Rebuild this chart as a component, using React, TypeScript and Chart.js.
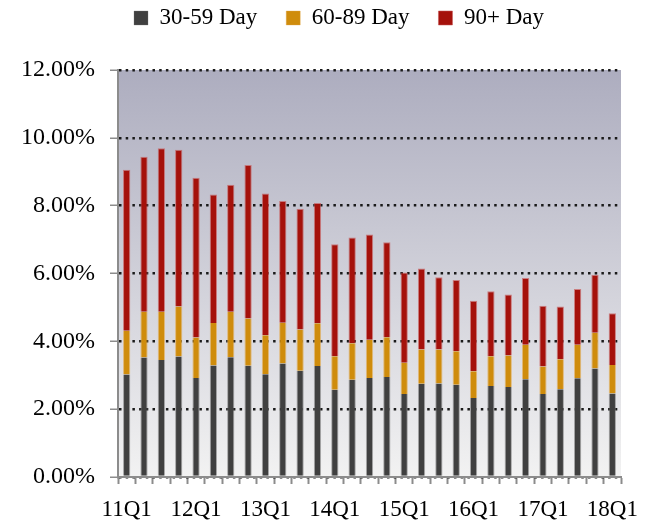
import React, { useEffect, useRef } from "react";
import { Chart, registerables } from "chart.js";

Chart.register(...registerables);

const quarters: string[] = [
  "11Q1", "11Q2", "11Q3", "11Q4",
  "12Q1", "12Q2", "12Q3", "12Q4",
  "13Q1", "13Q2", "13Q3", "13Q4",
  "14Q1", "14Q2", "14Q3", "14Q4",
  "15Q1", "15Q2", "15Q3", "15Q4",
  "16Q1", "16Q2", "16Q3", "16Q4",
  "17Q1", "17Q2", "17Q3", "17Q4",
  "18Q1",
];

const day30to59: number[] = [
  3.02, 3.52, 3.45, 3.55, 2.92, 3.29, 3.53, 3.28, 3.03, 3.35, 3.13, 3.27,
  2.57, 2.87, 2.92, 2.95, 2.45, 2.75, 2.76, 2.72, 2.33, 2.68, 2.65, 2.88,
  2.45, 2.59, 2.91, 3.20, 2.46,
];

const day60to89: number[] = [
  1.29, 1.35, 1.42, 1.48, 1.19, 1.25, 1.34, 1.39, 1.15, 1.20, 1.22, 1.26,
  0.99, 1.07, 1.13, 1.17, 0.92, 1.01, 1.00, 0.99, 0.79, 0.88, 0.93, 1.02,
  0.81, 0.88, 0.99, 1.05, 0.84,
];

const day90plus: number[] = [
  4.75, 4.57, 4.82, 4.62, 4.71, 3.79, 3.75, 4.53, 4.18, 3.59, 3.56, 3.55,
  3.30, 3.12, 3.10, 2.80, 2.66, 2.39, 2.13, 2.10, 2.08, 1.92, 1.80, 1.97,
  1.79, 1.56, 1.64, 1.71, 1.53,
];

const seriesNames: string[] = ["30-59 Day", "60-89 Day", "90+ Day"];
const yTicks: number[] = [0, 2, 4, 6, 8, 10, 12];

const FONT = "'Liberation Serif', 'Times New Roman', serif";

const bgPlugin = {
  id: "plotBg",
  beforeDraw(chart: any) {
    const { ctx, chartArea } = chart;
    if (!chartArea) return;
    const g = ctx.createLinearGradient(0, chartArea.top, 0, chartArea.bottom);
    g.addColorStop(0, "#adadbf");
    g.addColorStop(1, "#f2f2f2");
    ctx.save();
    ctx.fillStyle = g;
    ctx.fillRect(chartArea.left, chartArea.top, chartArea.right - chartArea.left, chartArea.bottom - chartArea.top);
    ctx.restore();
  },
};

const legendPlugin = {
  id: "legendPlace",
  beforeInit(chart: any) {
    const legend = chart.legend;
    if (!legend) return;
    const orig = legend.fit;
    legend.fit = function () {
      orig.call(this);
      this.height = 92.5;
    };
  },
  afterLayout(chart: any) {
    const legend = chart.legend;
    if (!legend) return;
    legend.left = 57;
    legend.width = legend.right - legend.left;
  },
};

export default function App() {
  const ref = useRef<HTMLCanvasElement | null>(null);

  useEffect(() => {
    if (!ref.current) return;
    const chart = new Chart(ref.current, {
      type: "bar",
      data: {
        labels: quarters,
        datasets: [
          {
            label: seriesNames[0],
            data: day30to59,
            backgroundColor: "#404040",
            borderColor: "rgba(120,120,120,0.6)",
            borderWidth: { top: 0, left: 1, right: 1, bottom: 0 },
          },
          {
            label: seriesNames[1],
            data: day60to89,
            backgroundColor: "#cf8c0c",
            borderColor: "rgba(225,170,80,0.7)",
            borderWidth: { top: 0, left: 1, right: 1, bottom: 0 },
          },
          {
            label: seriesNames[2],
            data: day90plus,
            backgroundColor: "#a5110b",
            borderColor: "rgba(200,90,90,0.7)",
            borderWidth: { top: 1, left: 1, right: 1, bottom: 0 },
          },
        ],
      },
      options: {
        animation: false,
        responsive: true,
        maintainAspectRatio: false,
        datasets: {
          bar: { categoryPercentage: 1, barPercentage: 0.42 },
        },
        layout: { padding: { left: 0, right: 34, top: -22.5, bottom: 0 } },
        plugins: {
          legend: {
            position: "top",
            labels: {
              boxWidth: 14,
              boxHeight: 14,
              padding: 29,
              color: "#000",
              font: { family: FONT, size: 23 },
            },
          },
          tooltip: { enabled: false },
        },
        scales: {
          x: {
            stacked: true,
            offset: true,
            grid: {
              offset: true,
              drawOnChartArea: false,
              drawTicks: true,
              tickLength: 7,
              tickColor: "#8c8c8c",
              tickWidth: 2,
            },
            border: { display: true, color: "#8c8c8c", width: 2 },
            ticks: {
              autoSkip: false,
              maxRotation: 0,
              minRotation: 0,
              padding: 12,
              color: "#000",
              font: { family: FONT, size: 23 },
              callback: (_v: any, i: number) => (i % 4 === 0 ? quarters[i] : ""),
            },
            afterFit: (s: any) => {
              s.height = 46;
            },
          },
          y: {
            stacked: true,
            min: yTicks[0],
            max: yTicks[yTicks.length - 1],
            afterBuildTicks: (s: any) => {
              s.ticks = yTicks.map((v) => ({ value: v }));
            },
            grid: {
              color: "#1a1a1a",
              lineWidth: 2.5,
              drawTicks: true,
              tickLength: 8,
              tickColor: "#8c8c8c",
              tickWidth: 1.5,
              tickBorderDash: [],
            },
            border: { display: true, color: "#8c8c8c", width: 2, dash: [2.5, 4.2] },
            ticks: {
              padding: 15,
              color: "#000",
              font: { family: FONT, size: 24 },
              callback: (v: any) => Number(v).toFixed(2) + "%",
            },
            afterFit: (s: any) => {
              s.width = 118;
            },
          },
        },
      },
      plugins: [bgPlugin, legendPlugin],
    });
    return () => chart.destroy();
  }, []);

  return (
    <div style={{ position: "absolute", left: 0, top: 0, width: 655, height: 523 }}>
      <canvas ref={ref} />
    </div>
  );
}
